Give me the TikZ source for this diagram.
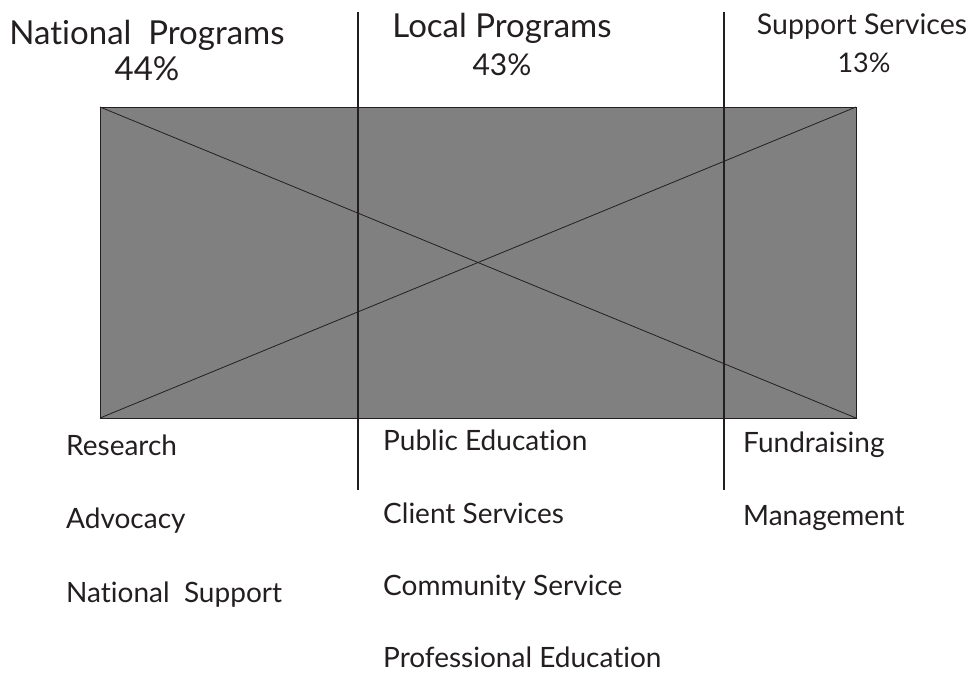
\documentclass[tikz,border=0pt]{standalone}
\usepackage{fontspec}
\setmainfont[Ligatures=NoCommon]{Lato}
\definecolor{ink}{HTML}{231F20}
\definecolor{boxgray}{HTML}{808080}
\tikzset{
  head/.style={anchor=base, inner sep=0pt, text=ink, font=\fontsize{33}{36}\selectfont},
  item/.style={anchor=base west, inner sep=0pt, text=ink, font=\fontsize{28}{32}\selectfont},
  divider/.style={draw=ink, line width=2pt},
  diag/.style={draw=ink, line width=0.8pt}
}
\begin{document}
\begin{tikzpicture}[x=1pt,y=-1pt]
\useasboundingbox (0,0) rectangle (971,675);
% box
\coordinate (tl) at (100,107);
\coordinate (tr) at (856,107);
\coordinate (bl) at (100,418);
\coordinate (br) at (856,418);
\fill[boxgray] (tl) rectangle (br);
\draw[draw=ink, line width=1pt] (tl) rectangle (br);
\draw[diag] (tl) -- (br);
\draw[diag] (bl) -- (tr);
% dividers
\coordinate (d1t) at (358,12);
\coordinate (d1b) at (358,490);
\coordinate (d2t) at (724,12);
\coordinate (d2b) at (724,490);
\draw[divider] (d1t) -- (d1b);
\draw[divider] (d2t) -- (d2b);
% headings
\node[head] (np) at (147,44) {National\ \ Programs};
\node[head] (npp) at (147,80) {44\%};
\node[head, font=\fontsize{33}{36}\selectfont] (lp) at (502,37) {Local Programs};
\node[head, font=\fontsize{30}{34}\selectfont] (lpp) at (502,75) {43\%};
\node[head, font=\fontsize{28.5}{32}\selectfont] (ss) at (862,34) {Support Services};
\node[head, font=\fontsize{27}{32}\selectfont] (ssp) at (864,72) {13\%};
% items
\node[item] (r1) at (66,455) {Research};
\node[item] (r2) at (66,528) {Advocacy};
\node[item] (r3) at (66,602) {National\ \ Support};
\node[item] (m1) at (383,450) {Public Education};
\node[item] (m2) at (383,523) {Client Services};
\node[item] (m3) at (383,595) {Community Service};
\node[item] (m4) at (383,667) {Professional Education};
\node[item] (f1) at (743,452) {Fundraising};
\node[item] (f2) at (743,525) {Management};
\end{tikzpicture}
\end{document}
